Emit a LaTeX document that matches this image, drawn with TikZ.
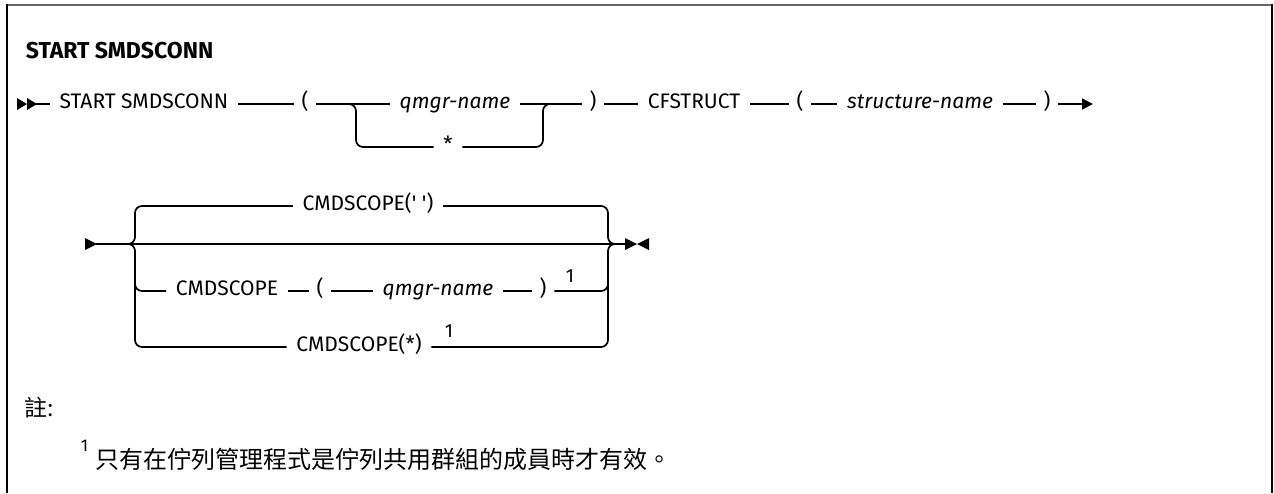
\documentclass[tikz,border=0pt]{standalone}
\usepackage{fontspec}
\setmainfont{Fira Sans}
\newfontfamily\cjk{Noto Sans CJK TC}
\usetikzlibrary{arrows.meta}
\begin{document}
\begin{tikzpicture}[x=1pt,y=-1pt,
  line width=1.7pt,
  kw/.style={inner xsep=9pt, inner ysep=0pt, text height=15pt, text depth=7pt, font=\fontsize{21}{24}\selectfont},
  var/.style={kw, font=\fontsize{21}{24}\selectfont\itshape},
  par/.style={kw, inner xsep=7pt},
  fn/.style={inner sep=0pt, font=\fontsize{19}{21}\selectfont},
  rc/.style={rounded corners=7pt},
  tipfill/.style={fill=black, draw=none}
]
\useasboundingbox (0,0) rectangle (1274,493);
\fill[white] (0,0) rectangle (1274,493);
% frame (open at the bottom)
\draw[black!60, line width=2pt] (6,5) -- (1273,5);
\draw[line width=2pt] (7,4) -- (7,493);
\draw[line width=2pt] (1272,4) -- (1272,493);

% title
\node[anchor=west, inner sep=0pt, font=\fontsize{23}{26}\selectfont\bfseries] (title) at (25,51) {START SMDSCONN};

% ---------- row 1 ----------
\fill[tipfill] (17,98) -- (27,104) -- (17,110) -- cycle;
\fill[tipfill] (27,98) -- (37,104) -- (27,110) -- cycle;
\coordinate (a1) at (36,104);
\node[kw]  (ss)   at (144,104) {START SMDSCONN};
\node[par] (lp1)  at (305,104) {(};
\node[var] (qm1)  at (455,104) {qmgr-name};
\node[kw]  (star) at (448,147) {*};
\node[par] (rp1)  at (593,104) {)};
\node[kw]  (cfs)  at (694,104) {CFSTRUCT};
\node[par] (lp2)  at (800,104) {(};
\node[var] (sn)   at (920,104) {structure-name};
\node[par] (rp2)  at (1047,104) {)};
\coordinate (e1) at (1093,104);
\coordinate (b1) at (347,104);
\coordinate (m1) at (553,104);

\draw (a1) -- (ss);
\draw (ss) -- (lp1);
\draw (lp1) -- (qm1);
\draw (qm1) -- (rp1);
\draw[rc] (b1) -- (356,104) -- (356,147) -- (star);
\draw[rc] (star) -- (543,147) -- (543,104) -- (m1);
\draw (rp1) -- (cfs);
\draw (cfs) -- (lp2);
\draw (lp2) -- (sn);
\draw (sn) -- (rp2);
\draw[-{Triangle[length=11pt,width=11pt]}] (rp2) -- (e1);

% ---------- row 2 ----------
\fill[tipfill] (85,238) -- (97,244) -- (85,250) -- cycle;
\coordinate (a2) at (96,244);
\coordinate (j2) at (120,244);
\coordinate (k2) at (618,244);
\coordinate (e2) at (626,244);
\fill[tipfill] (625,238) -- (637,244) -- (625,250) -- cycle;
\fill[tipfill] (649,238) -- (637,244) -- (649,250) -- cycle;

\node[kw]  (cs0) at (368,206) {CMDSCOPE(\textquotesingle{} \textquotesingle)};
\node[kw]  (cs1) at (227,291) {CMDSCOPE};
\node[par] (lp3) at (320,291) {(};
\node[var] (qm2) at (438,291) {qmgr-name};
\node[par] (rp3) at (543,291) {)};
\node[fn, anchor=south] (n1) at (570,283) {1};
\node[kw]  (cs2) at (359,347) {CMDSCOPE(*)};
\node[fn, anchor=south] (n2) at (449,338) {1};
\coordinate (v1) at (135,272);
\coordinate (v2) at (608,272);

\draw (a2) -- (e2);
\draw[rc] (j2) -- (135,244) -- (135,206) -- (cs0);
\draw[rc] (cs0) -- (608,206) -- (608,244) -- (k2);
\draw[rc] (j2) -- (135,244) -- (135,347) -- (cs2);
\draw[rc] (cs2) -- (608,347) -- (608,244) -- (k2);
\draw[rc] (v1) -- (135,291) -- (cs1);
\draw (cs1) -- (lp3);
\draw (lp3) -- (qm2);
\draw (qm2) -- (rp3);
\draw[rc] (rp3) -- (608,291) -- (v2);

% ---------- notes ----------
\node[anchor=west, inner sep=0pt, font=\cjk\fontsize{23}{26}\selectfont] (note) at (24,408) {註:};
\node[anchor=south west, inner sep=0pt, font=\fontsize{17}{19}\selectfont] (fnum) at (80,452) {1};
\node[anchor=west, inner sep=0pt, font=\cjk\fontsize{24}{27}\selectfont] (fntext) at (95,459) {只有在佇列管理程式是佇列共用群組的成員時才有效。};
\end{tikzpicture}
\end{document}
